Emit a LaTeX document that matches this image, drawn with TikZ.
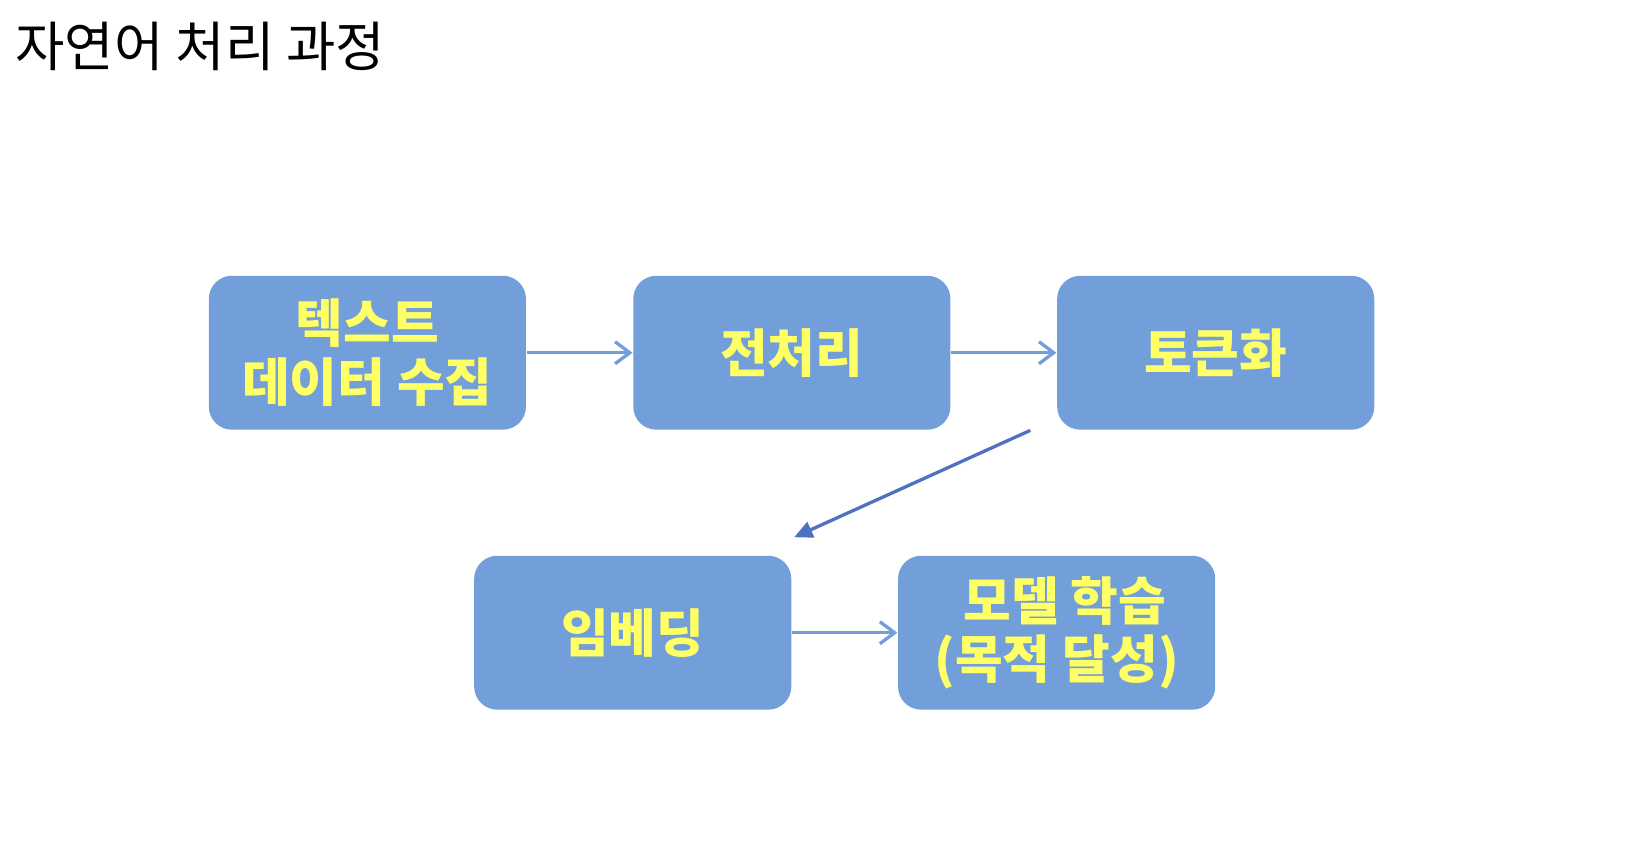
\documentclass[tikz,border=0pt]{standalone}
\usepackage{fontspec}
\usepackage{tikz}
\usetikzlibrary{arrows.meta,shapes,positioning,calc}
\usepackage{xcolor}
\newfontfamily\kofont{Noto Sans CJK KR}
\definecolor{nlpblue}{RGB}{114,158,217}
\definecolor{nlpyellow}{RGB}{255,255,102}
\definecolor{nlpdarkblue}{RGB}{80,113,193}
\tikzstyle{stage} = [rectangle, fill=nlpblue, minimum width=3.03cm, minimum height=1.47cm, rounded corners=0.22cm, align=center, text=nlpyellow, font=\kofont\bfseries\fontsize{14.1}{15.9}\selectfont]
\tikzstyle{arrow} = [line width=0.9pt,-{Straight Barb[length=4pt,width=6pt]},color=nlpblue]
\tikzstyle{darrow} = [line width=0.9pt,-{Triangle[length=5pt,width=4.5pt]},color=nlpdarkblue]

\begin{document}
\begin{tikzpicture}
    \useasboundingbox (0,0) rectangle (15.63,-8.255);
    \node[anchor=west, inner sep=0pt, font=\kofont\fontsize{14.6}{17}\selectfont] (title) at (0.14,-0.44) {자연어 처리 과정};

    \node[stage] (collect) at (3.51,-3.37) {텍스트\\데이터 수집};
    \node[stage] (prep) at (7.565,-3.37) {전처리};
    \node[stage] (tok) at (11.615,-3.37) {토큰화};
    \node[stage] (emb) at (6.045,-6.045) {임베딩};
    \node[stage] (train) at (10.095,-6.045) {\hspace*{0.16cm}모델 학습\\(목적 달성)};

    \coordinate (tokout) at ($(tok.south west)+(-0.25,0)$);
    \coordinate (embin) at ($(emb.north east)+(0.02,0.17)$);

    \draw[arrow] (collect) -- (prep);
    \draw[arrow] (prep) -- (tok);
    \draw[darrow] (tokout) -- (embin);
    \draw[arrow] (emb) -- (train);
\end{tikzpicture}
\end{document}
